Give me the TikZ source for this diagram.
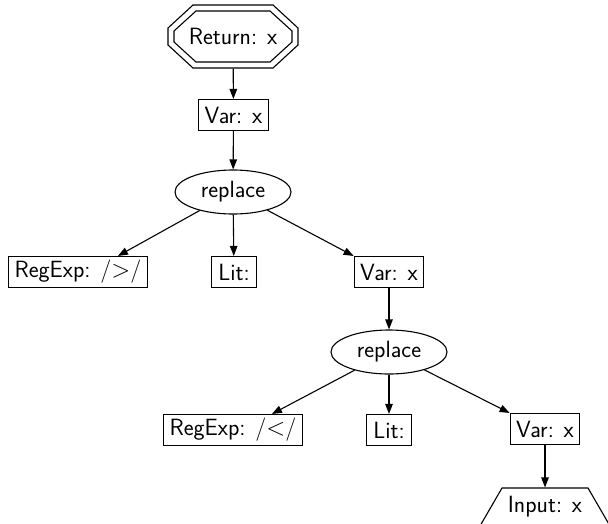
\documentclass[tikz,border=0pt]{standalone}
\usetikzlibrary{arrows.meta,shapes.geometric}
\begin{document}
\begin{tikzpicture}[x=1pt,y=-1pt, font=\sffamily\fontsize{23.5}{28}\selectfont, line width=1.1pt,
  box/.style={draw, rectangle, inner xsep=6pt, inner ysep=0pt, minimum height=31pt},
  ell/.style={draw, ellipse, minimum width=116pt, minimum height=44pt, inner sep=0pt},
  plain/.style={draw=none, rectangle, inner sep=0pt},
  arr/.style={-{Triangle[length=10pt,width=7.5pt]}}]
\useasboundingbox (0,0) rectangle (608,523);
\begin{scope}
\clip (0,0) rectangle (608,523);
% Return octagon
\node[plain, minimum width=130pt, minimum height=63pt] (ret) at (233,36.5) {Return: x};
\draw (193,5) -- (273,5) -- (298,28) -- (298,45) -- (273,68) -- (193,68) -- (168,45) -- (168,28) -- cycle;
\draw (196,11) -- (270,11) -- (292,31) -- (292,42) -- (270,62) -- (196,62) -- (174,42) -- (174,31) -- cycle;

\node[box] (var1) at (233.5,115) {Var: x};
\node[ell] (rep1) at (233,192) {replace};
\node[box] (re1) at (78,272) {RegExp: /$>$/};
\node[box, inner xsep=7pt] (lit1) at (234,272) {Lit:};
\node[box] (var2) at (389,272) {Var: x};
\node[ell] (rep2) at (389,352) {replace};
\node[box] (re2) at (233,430) {RegExp: /$<$/};
\node[box, inner xsep=7pt] (lit2) at (389,430) {Lit:};
\node[box] (var3) at (545,429) {Var: x};
\node[plain, minimum height=38pt, minimum width=80pt] (inp) at (545,507) {Input: x};
\draw (479.4,527) -- (502,488) -- (588,488) -- (610.6,527);

\draw[arr] (ret) -- (var1);
\draw[arr] (var1) -- (rep1);
\draw[arr] (rep1) -- ([xshift=-30pt]re1.north east);
\draw[arr] (rep1) -- (lit1);
\draw[arr] (rep1) -- (var2.north west);
\draw[arr] (var2) -- (rep2);
\draw[arr] (rep2) -- ([xshift=-31pt]re2.north east);
\draw[arr] (rep2) -- (lit2);
\draw[arr] (rep2) -- (var3.north west);
\draw[arr] (var3) -- (inp);
\end{scope}
\end{tikzpicture}
\end{document}
